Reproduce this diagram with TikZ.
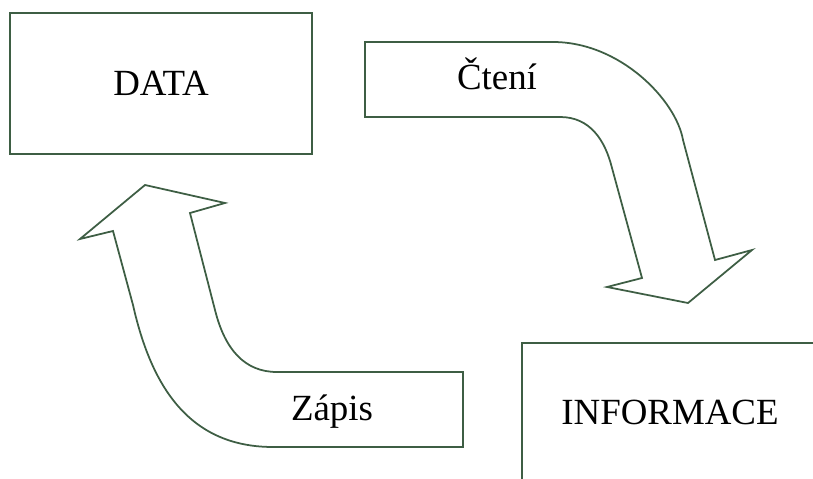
\documentclass[tikz,border=0pt]{standalone}
\usepackage{fontspec}
\setmainfont{Liberation Serif}
\definecolor{outline}{RGB}{62,94,68}

\begin{document}
\begin{tikzpicture}[
    x=0.02cm, y=-0.02cm,
    font=\fontsize{21}{25}\selectfont,
    line width=1pt,
    box/.style={draw=outline, inner sep=0pt},
    bigarrow/.style={draw=outline, fill=white, line join=miter}
]
    \useasboundingbox (0,0) rectangle (813,479);

    % Boxes
    \node[box, minimum width=6.04cm, minimum height=2.82cm] (data) at (161,83.5) {DATA};
    \node[box, minimum width=5.92cm, minimum height=2.76cm] (info) at (670,412) {INFORMACE};

    % Reading arrow
    \draw[bigarrow] (365,42) -- (553,42)
        .. controls (620,42) and (676,100) .. (683,140)
        -- (715,260) -- (752,250) -- (688,303) -- (607,287) -- (642,278)
        -- (612,168) .. controls (605,140) and (590,117) .. (560,117)
        -- (365,117) -- cycle;
    \node[anchor=base] (cteni) at (497,90) {Čtení};

    % Writing arrow
    \draw[bigarrow] (463,372) -- (277,372)
        .. controls (245,372) and (225,350) .. (215,310)
        -- (190,213) -- (225,203) -- (145,185) -- (80,239) -- (113,231)
        -- (133,305) .. controls (150,380) and (185,447) .. (273,447)
        -- (463,447) -- cycle;
    \node[anchor=base] (zapis) at (332,420) {Zápis};

\end{tikzpicture}
\end{document}
